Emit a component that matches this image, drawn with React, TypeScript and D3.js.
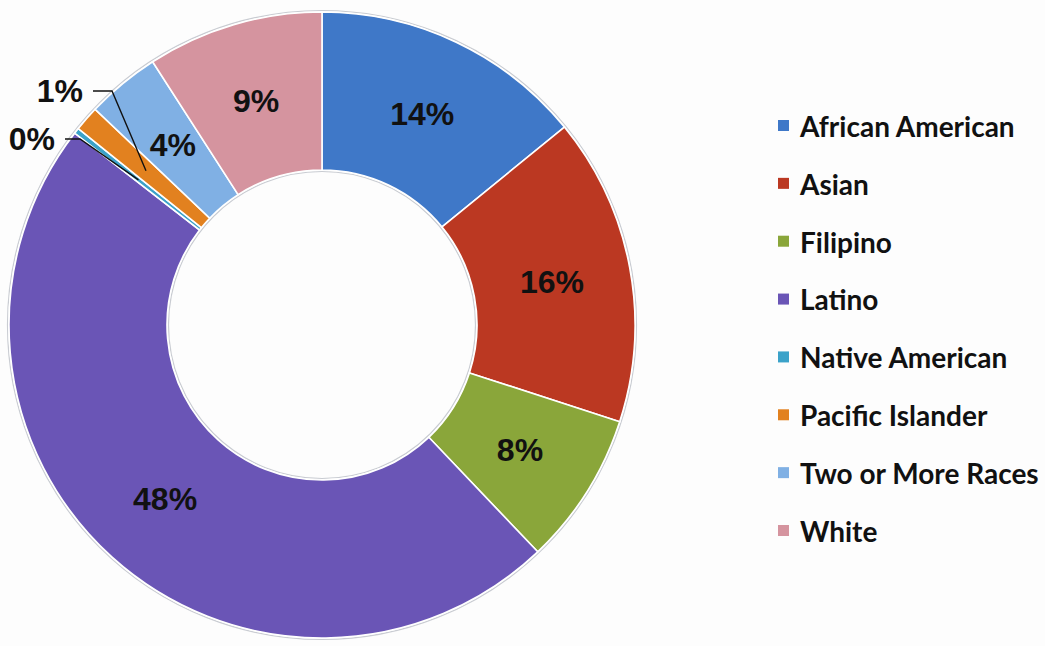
import * as d3 from "d3";
import { useEffect } from "react";

// enrollment share by group
const groups = [
  "African American",
  "Asian",
  "Filipino",
  "Latino",
  "Native American",
  "Pacific Islander",
  "Two or More Races",
  "White",
];
const shares = [14.1, 15.9, 7.9, 47.6, 0.3, 1.3, 3.8, 9.1];
const colors = [
  "#3f78c8",
  "#bb3822",
  "#8aa63a",
  "#6a55b6",
  "#3ba2c9",
  "#e2811f",
  "#80b0e4",
  "#d5949f",
];
// small slices get their label outside with a leader line
const outsideLabels: Record<string, { x: number; y: number; elbow: number }> = {
  "Native American": { x: -267, y: -186, elbow: -254 },
  "Pacific Islander": { x: -239, y: -234, elbow: -222 },
};

export default function App() {
  useEffect(() => {
    document.body.style.margin = "0";
    document.body.style.background = "#fdfdfd";
  }, []);

  const width = 1045;
  const height = 646;
  const cx = 322;
  const cy = 325;
  const outer = 313;
  const inner = 155;

  const pie = d3.pie<number>().sort(null).value((d) => d);
  const arcs = pie(shares);
  const arc = d3.arc<d3.PieArcDatum<number>>().innerRadius(inner).outerRadius(outer);
  const mid = d3
    .arc<d3.PieArcDatum<number>>()
    .innerRadius((inner + outer) / 2)
    .outerRadius((inner + outer) / 2);

  const legendY = d3.scalePoint<string>().domain(groups).range([127, 532]);
  const fmt = (v: number) => Math.round(v) + "%";
  const labelFont = "'Liberation Sans Narrow', 'Arial Narrow', 'Liberation Sans', Arial, sans-serif";

  return (
    <svg width={width} height={height} style={{ display: "block", background: "#fdfdfd" }}>
      <g transform={`translate(${cx},${cy})`}>
        <circle r={outer + 1.5} fill="none" stroke="#c9ccd2" strokeWidth={1.2} />
        <circle r={inner - 1.5} fill="none" stroke="#c9ccd2" strokeWidth={1.2} />
        {arcs.map((a, i) => (
          <path key={groups[i]} d={arc(a) || ""} fill={colors[i]} stroke="#ffffff" strokeWidth={1.6} />
        ))}
        {arcs.map((a, i) => {
          const [mx, my] = mid.centroid(a);
          const out = outsideLabels[groups[i]];
          if (out) {
            return (
              <g key={"l" + i}>
                <polyline
                  points={`${out.x + 10},${out.y} ${out.elbow + 12},${out.y} ${mx},${my}`}
                  fill="none"
                  stroke="#111"
                  strokeWidth={1.4}
                />
                <text
                  x={out.x}
                  y={out.y}
                  dy="0.35em"
                  textAnchor="end"
                  fontFamily={labelFont}
                  fontWeight="bold"
                  fontSize={32}
                  fill="#111"
                >
                  {fmt(shares[i])}
                </text>
              </g>
            );
          }
          return (
            <text
              key={"l" + i}
              x={mx}
              y={my}
              dy="0.35em"
              textAnchor="middle"
              fontFamily={labelFont}
              fontWeight="bold"
              fontSize={32}
              fill="#111"
            >
              {fmt(shares[i])}
            </text>
          );
        })}
      </g>
      <g>
        {groups.map((g, i) => (
          <g key={g} transform={`translate(778,${legendY(g)})`}>
            <rect x={0} y={-7} width={11} height={11} fill={colors[i]} />
            <text
              x={22}
              y={0}
              dy="0.35em"
              fontFamily="Lato, 'Open Sans', sans-serif"
              fontWeight="bold"
              fontSize={28}
              fill="#111"
            >
              {g}
            </text>
          </g>
        ))}
      </g>
    </svg>
  );
}
